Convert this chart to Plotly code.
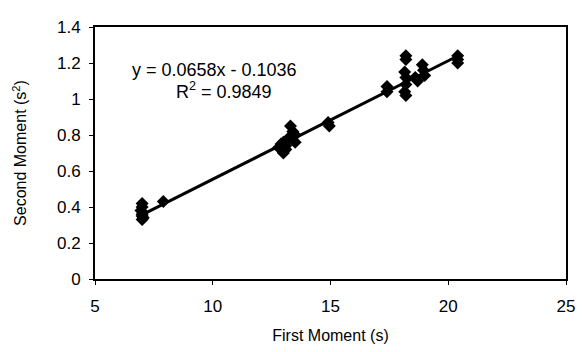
import numpy as np
import plotly.graph_objects as go

first_moment = [7.0, 7.0, 6.95, 7.0, 7.0, 7.05, 7.0, 7.9,
                12.8, 13.0, 13.0, 13.1, 13.2, 13.3, 13.4, 13.5, 13.5, 13.1, 12.9,
                14.9, 14.95,
                17.4, 17.4,
                18.2, 18.2, 18.15, 18.2, 18.2, 18.15, 18.2,
                18.6, 18.7, 18.9, 18.95, 19.0,
                20.4, 20.4, 20.4]
second_moment = [0.42, 0.40, 0.38, 0.36, 0.35, 0.34, 0.33, 0.43,
                 0.73, 0.76, 0.70, 0.72, 0.78, 0.85, 0.82, 0.80, 0.76, 0.74, 0.75,
                 0.87, 0.85,
                 1.07, 1.04,
                 1.24, 1.22, 1.15, 1.12, 1.08, 1.04, 1.02,
                 1.12, 1.10, 1.19, 1.16, 1.13,
                 1.24, 1.22, 1.20]
slope = 0.0658
intercept = -0.1036
r_squared = 0.9849

x_ticks = [5, 10, 15, 20, 25]
y_ticks = [0, 0.2, 0.4, 0.6, 0.8, 1.0, 1.2, 1.4]

fit_x = np.array([min(first_moment), max(first_moment)])
fit_y = slope * fit_x + intercept

FONT = "Arial, Liberation Sans, sans-serif"

fig = go.Figure()
fig.add_trace(go.Scatter(x=first_moment, y=second_moment, mode="markers",
                         marker=dict(symbol="diamond", size=10, color="black"),
                         showlegend=False))
fig.add_trace(go.Scatter(x=fit_x, y=fit_y, mode="lines",
                         line=dict(color="black", width=3), showlegend=False))

fig.add_annotation(x=0.254, y=0.828, xref="paper", yref="paper",
                   xanchor="center", yanchor="middle",
                   text=f"y = {slope}x - {abs(intercept)}",
                   showarrow=False, font=dict(family=FONT, size=18, color="black"))
fig.add_annotation(x=0.273, y=0.750, xref="paper", yref="paper",
                   xanchor="center", yanchor="middle",
                   text=f"R<sup>2</sup> = {r_squared}",
                   showarrow=False, font=dict(family=FONT, size=18, color="black"))

fig.update_xaxes(range=[5, 25], tickvals=x_ticks, showgrid=False, zeroline=False,
                 showline=True, linecolor="black", linewidth=2, mirror=True,
                 ticks="outside", ticklen=4, tickcolor="black",
                 title=dict(text="First Moment (s)", font=dict(size=16), standoff=14),
                 tickfont=dict(size=17), ticklabelstandoff=7)
fig.update_yaxes(range=[0, 1.4], tickvals=y_ticks, showgrid=False, zeroline=False,
                 showline=True, linecolor="black", linewidth=2, mirror=True,
                 ticks="outside", ticklen=4, tickcolor="black",
                 title=dict(text="Second Moment (s<sup>2</sup>)", font=dict(size=16), standoff=26),
                 tickfont=dict(size=17), ticklabelstandoff=5)

# page body keeps its default 8px margin, so the figure is sized to end at the window edge
fig.update_layout(width=577, height=344, margin=dict(l=87, r=10, t=15, b=62),
                  plot_bgcolor="white", paper_bgcolor="white",
                  font=dict(family=FONT, color="black"))

fig.write_html("out.html", config={"displayModeBar": False})
